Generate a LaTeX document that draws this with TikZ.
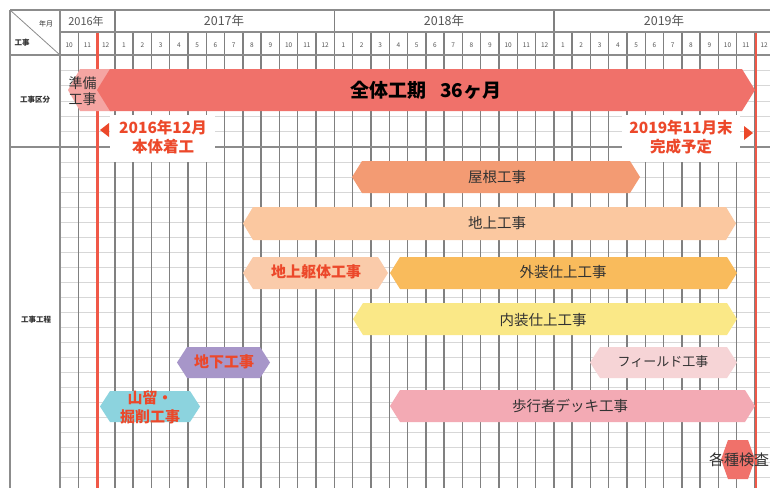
\documentclass[tikz,border=0pt]{standalone}
\usepackage{fontspec}
\setmainfont{Noto Sans CJK JP}
\definecolor{gridgray}{RGB}{128,128,128}
\definecolor{lightg}{RGB}{215,215,215}
\definecolor{framegray}{RGB}{140,140,140}
\definecolor{redl}{RGB}{240,88,72}
\definecolor{redt}{RGB}{236,72,42}
\definecolor{darkt}{RGB}{50,50,50}
\definecolor{headt}{RGB}{85,85,85}
\definecolor{cMain}{RGB}{240,113,106}
\definecolor{cPrep}{RGB}{245,165,162}
\definecolor{cRoof}{RGB}{243,155,115}
\definecolor{cAbove}{RGB}{251,200,160}
\definecolor{cFrame}{RGB}{250,203,170}
\definecolor{cExt}{RGB}{249,187,92}
\definecolor{cInt}{RGB}{250,232,135}
\definecolor{cUnder}{RGB}{167,150,201}
\definecolor{cDig}{RGB}{140,211,222}
\definecolor{cField}{RGB}{246,212,214}
\definecolor{cDeck}{RGB}{243,170,180}
\newcommand\drawhex[6]{%
  \fill[#6] (#1,{(#3+#4)/2}) -- (#1+#5,#3) -- (#2-#5,#3) -- (#2,{(#3+#4)/2}) -- (#2-#5,#4) -- (#1+#5,#4) -- cycle;}
\tikzset{
  major/.style={draw=gridgray, line width=1.4pt},
  minorline/.style={draw=lightg, line width=0.6pt},
  frame/.style={draw=framegray, line width=1.2pt},
  redline/.style={draw=redl, line width=2.4pt},
  bartext/.style={font=\fontsize{14.5}{16}\selectfont, text=darkt, inner sep=0pt, align=center},
  redtext/.style={font=\bfseries\fontsize{15}{19}\selectfont, text=redt, inner sep=0pt, align=center},
  monthtext/.style={font=\fontsize{6.5}{7}\selectfont, text=headt, inner sep=0pt},
  yeartext/.style={font=\fontsize{12.5}{13}\selectfont, text=headt, inner sep=0pt},
  smalltext/.style={font=\bfseries\fontsize{7.5}{8}\selectfont, text=darkt, inner sep=0pt},
}
\begin{document}
\begin{tikzpicture}[x=1pt,y=-1pt]
\useasboundingbox (0,0) rectangle (770,488);
\clip (0,0) rectangle (770,488);
\fill[white] (0,0) rectangle (770,488);
% minor horizontal lines
\foreach \k in {1,...,5} \draw[minorline] (60,{55+\k*15.33}) -- (770,{55+\k*15.33});
\foreach \k in {1,...,23} \draw[minorline] (60,{147+\k*15}) -- (770,{147+\k*15});
% month boundaries
\foreach \i in {1,...,39} \draw[major] ({60+\i*18.29},32) -- ({60+\i*18.29},488);
% year boundaries
\foreach \i in {3,15,27} \draw[major] ({60+\i*18.29},10) -- ({60+\i*18.29},32);
% frame
\draw[frame] (10,10) -- (770,10);
\draw[frame] (10,10) -- (10,488);
\draw[frame] (60,10) -- (60,488);
\draw[frame] (60,32) -- (770,32);
\draw[frame] (10,55) -- (770,55);
\draw[frame] (10,147) -- (770,147);
\draw[frame, line width=0.8pt] (10,10) -- (60,55);
% header texts
\node[smalltext, font=\fontsize{7}{8}\selectfont] (hym) at (46,24) {年月};
\node[smalltext] (hkj) at (22,43) {工事};
\node[smalltext] (sec1) at (35,100) {工事区分};
\node[smalltext] (sec2) at (36,320) {工事工程};
\node[yeartext, font=\fontsize{11}{12}\selectfont] (y2016) at (86,21) {2016年};
\node[yeartext] (y2017) at (224,21) {2017年};
\node[yeartext] (y2018) at (444,21) {2018年};
\node[yeartext] (y2019) at (664,21) {2019年};
\foreach \m [count=\i from 0] in {10,11,12,1,2,3,4,5,6,7,8,9,10,11,12,1,2,3,4,5,6,7,8,9,10,11,12,1,2,3,4,5,6,7,8,9,10,11,12}
  \node[monthtext] (m\i) at ({60+(\i+0.5)*18.29},45) {\m};
% white label boxes
\fill[white] (110,115) rectangle (215,162);
\fill[white] (622,115) rectangle (740,162);
% red lines
\coordinate (rl1t) at (97.5,33);
\coordinate (rl1b) at (97.5,488);
\coordinate (rl2t) at (756,33);
\coordinate (rl2b) at (756,488);
\draw[redline] (rl1t) -- (rl1b);
\draw[redline] (rl2t) -- (rl2b);
% bars
\drawhex{68}{125}{69}{111}{12}{cPrep}
\drawhex{97}{755}{69}{111}{13}{cMain}
\drawhex{352}{640}{161}{193}{10}{cRoof}
\drawhex{243}{736}{207}{240}{10}{cAbove}
\drawhex{243}{388}{257}{289}{10}{cFrame}
\drawhex{390}{737}{257}{289}{10}{cExt}
\drawhex{353}{737}{303}{335}{10}{cInt}
\drawhex{177}{270}{347}{378}{10}{cUnder}
\drawhex{100}{200}{391}{422}{10}{cDig}
\drawhex{590}{737}{347}{378}{10}{cField}
\drawhex{390}{755}{390}{422}{10}{cDeck}
\drawhex{721}{755}{440}{479}{7}{cMain}
% bar texts
\node[bartext, font=\fontsize{14}{16}\selectfont] (prep) at (82.5,91) {準備\\工事};
\node[font=\bfseries\fontsize{19}{20}\selectfont, inner sep=0pt] (whole) at (426,90) {全体工期\hspace{0.7em}36ヶ月};
\node[bartext] (roof) at (497,177) {屋根工事};
\node[bartext] (above) at (497,223) {地上工事};
\node[redtext] (frame) at (316,272) {地上躯体工事};
\node[bartext] (ext) at (563,272) {外装仕上工事};
\node[bartext] (int) at (543,320) {内装仕上工事};
\node[redtext] (under) at (224,362) {地下工事};
\node[redtext] (dig) at (150,407) {山留・\\掘削工事};
\node[bartext, font=\fontsize{13}{14}\selectfont] (field) at (663,362) {フィールド工事};
\node[bartext] (deck) at (570,406) {歩行者デッキ工事};
\node[bartext, font=\fontsize{15}{16}\selectfont] (insp) at (739,460) {各種検査};
% milestone labels
\node[redtext, font=\bfseries\fontsize{15.5}{19}\selectfont] (start) at (163,137) {2016年12月\\本体着工};
\node[redtext, font=\bfseries\fontsize{15.5}{19}\selectfont] (finish) at (681,137) {2019年11月末\\完成予定};
\fill[redt] (100,130) -- (109,123) -- (109,137) -- cycle;
\fill[redt] (753,133) -- (744,126) -- (744,140) -- cycle;
\end{tikzpicture}
\end{document}
